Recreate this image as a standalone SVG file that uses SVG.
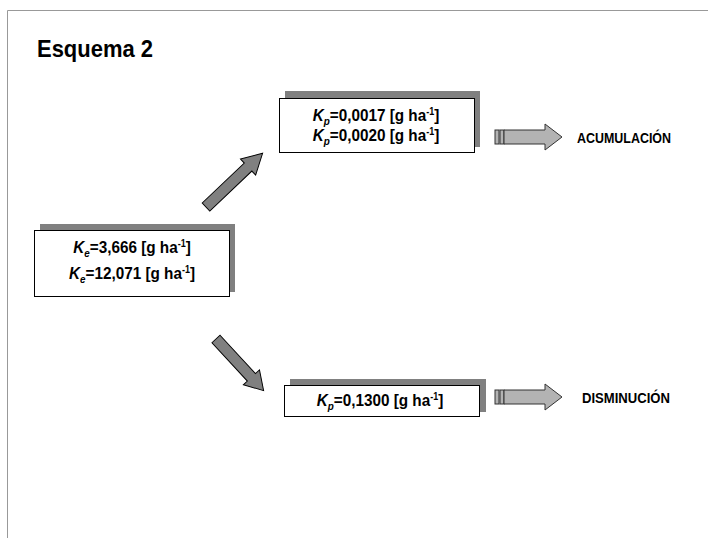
<svg xmlns="http://www.w3.org/2000/svg" width="708" height="538" viewBox="0 0 708 538">
  <style>
    .frame { stroke: #999; stroke-width: 1; fill: none; }
    .shadow { fill: #808080; }
    .box { fill: #fff; stroke: #000; stroke-width: 1; }
    .val { font-family: "Liberation Sans", Arial, sans-serif; font-weight: bold; font-size: 17px; fill: #000; }
    .lbl { font-family: "Liberation Sans", Arial, sans-serif; font-weight: bold; font-size: 14px; fill: #000; }
    .title { font-family: "Liberation Sans", Arial, sans-serif; font-weight: bold; font-size: 24px; fill: #000; }
    .diag { fill: #808080; stroke: #000; stroke-width: 1; stroke-linejoin: miter; }
    .flow { fill: #b3b3b3; stroke: #333; stroke-width: 1; }
  </style>
  <defs>
    <!-- striped block arrow used for the outcome flows -->
    <g id="flowArrow">
      <rect class="flow" x="0" y="-7" width="4" height="14"/>
      <rect class="flow" x="5" y="-7" width="4" height="14"/>
      <polygon class="flow" points="9,-7 50,-7 50,-13 67,0 50,13 50,7 9,7"/>
    </g>
    <!-- thick block arrow, drawn along +x from the tail -->
    <polygon id="diagArrow" class="diag" points="0,-5.5 58,-5.5 58,-11 78,0 58,11 58,5.5 0,5.5"/>
  </defs>

  <rect width="708" height="538" fill="#fff"/>
  <path class="frame" d="M7.5,538 V10.5 H708"/>

  <text class="title" x="37" y="57" textLength="116" lengthAdjust="spacingAndGlyphs">Esquema 2</text>

  <g id="node-ke">
    <rect class="shadow" x="40" y="224" width="195" height="68"/>
    <rect class="box" x="34.5" y="230.5" width="195" height="66"/>
    <text class="val" transform="translate(132,253) scale(0.9,1)" text-anchor="middle"><tspan font-style="italic">K</tspan><tspan font-size="11" dy="4" font-style="italic">e</tspan><tspan dy="-4">=3,666 [g ha</tspan><tspan font-size="10" dy="-6">-1</tspan><tspan dy="6">]</tspan></text>
    <text class="val" transform="translate(132,279) scale(0.9,1)" text-anchor="middle"><tspan font-style="italic">K</tspan><tspan font-size="11" dy="4" font-style="italic">e</tspan><tspan dy="-4">=12,071 [g ha</tspan><tspan font-size="10" dy="-6">-1</tspan><tspan dy="6">]</tspan></text>
  </g>

  <g id="node-kp-up">
    <rect class="shadow" x="285" y="91" width="195" height="56"/>
    <rect class="box" x="279.5" y="98.5" width="195" height="54"/>
    <text class="val" transform="translate(376,121) scale(0.9,1)" text-anchor="middle"><tspan font-style="italic">K</tspan><tspan font-size="11" dy="4" font-style="italic">p</tspan><tspan dy="-4">=0,0017 [g ha</tspan><tspan font-size="10" dy="-6">-1</tspan><tspan dy="6">]</tspan></text>
    <text class="val" transform="translate(376,141) scale(0.9,1)" text-anchor="middle"><tspan font-style="italic">K</tspan><tspan font-size="11" dy="4" font-style="italic">p</tspan><tspan dy="-4">=0,0020 [g ha</tspan><tspan font-size="10" dy="-6">-1</tspan><tspan dy="6">]</tspan></text>
  </g>

  <g id="node-kp-down">
    <rect class="shadow" x="290" y="379" width="196" height="33"/>
    <rect class="box" x="284.5" y="385.5" width="195" height="31"/>
    <text class="val" transform="translate(380,406) scale(0.9,1)" text-anchor="middle"><tspan font-style="italic">K</tspan><tspan font-size="11" dy="4" font-style="italic">p</tspan><tspan dy="-4">=0,1300 [g ha</tspan><tspan font-size="10" dy="-6">-1</tspan><tspan dy="6">]</tspan></text>
  </g>

  <g id="node-acumulacion">
    <text class="lbl" x="577" y="143" textLength="94" lengthAdjust="spacingAndGlyphs">ACUMULACIÓN</text>
  </g>
  <g id="node-disminucion">
    <text class="lbl" x="582" y="403" textLength="88" lengthAdjust="spacingAndGlyphs">DISMINUCIÓN</text>
  </g>

  <g id="connectors">
    <use href="#diagArrow" transform="translate(206,207) rotate(-43.5)"/>
    <use href="#diagArrow" transform="translate(216,339) rotate(47.3) scale(0.9,1)"/>
    <use href="#flowArrow" transform="translate(495,137)"/>
    <use href="#flowArrow" transform="translate(495,397)"/>
  </g>
</svg>
